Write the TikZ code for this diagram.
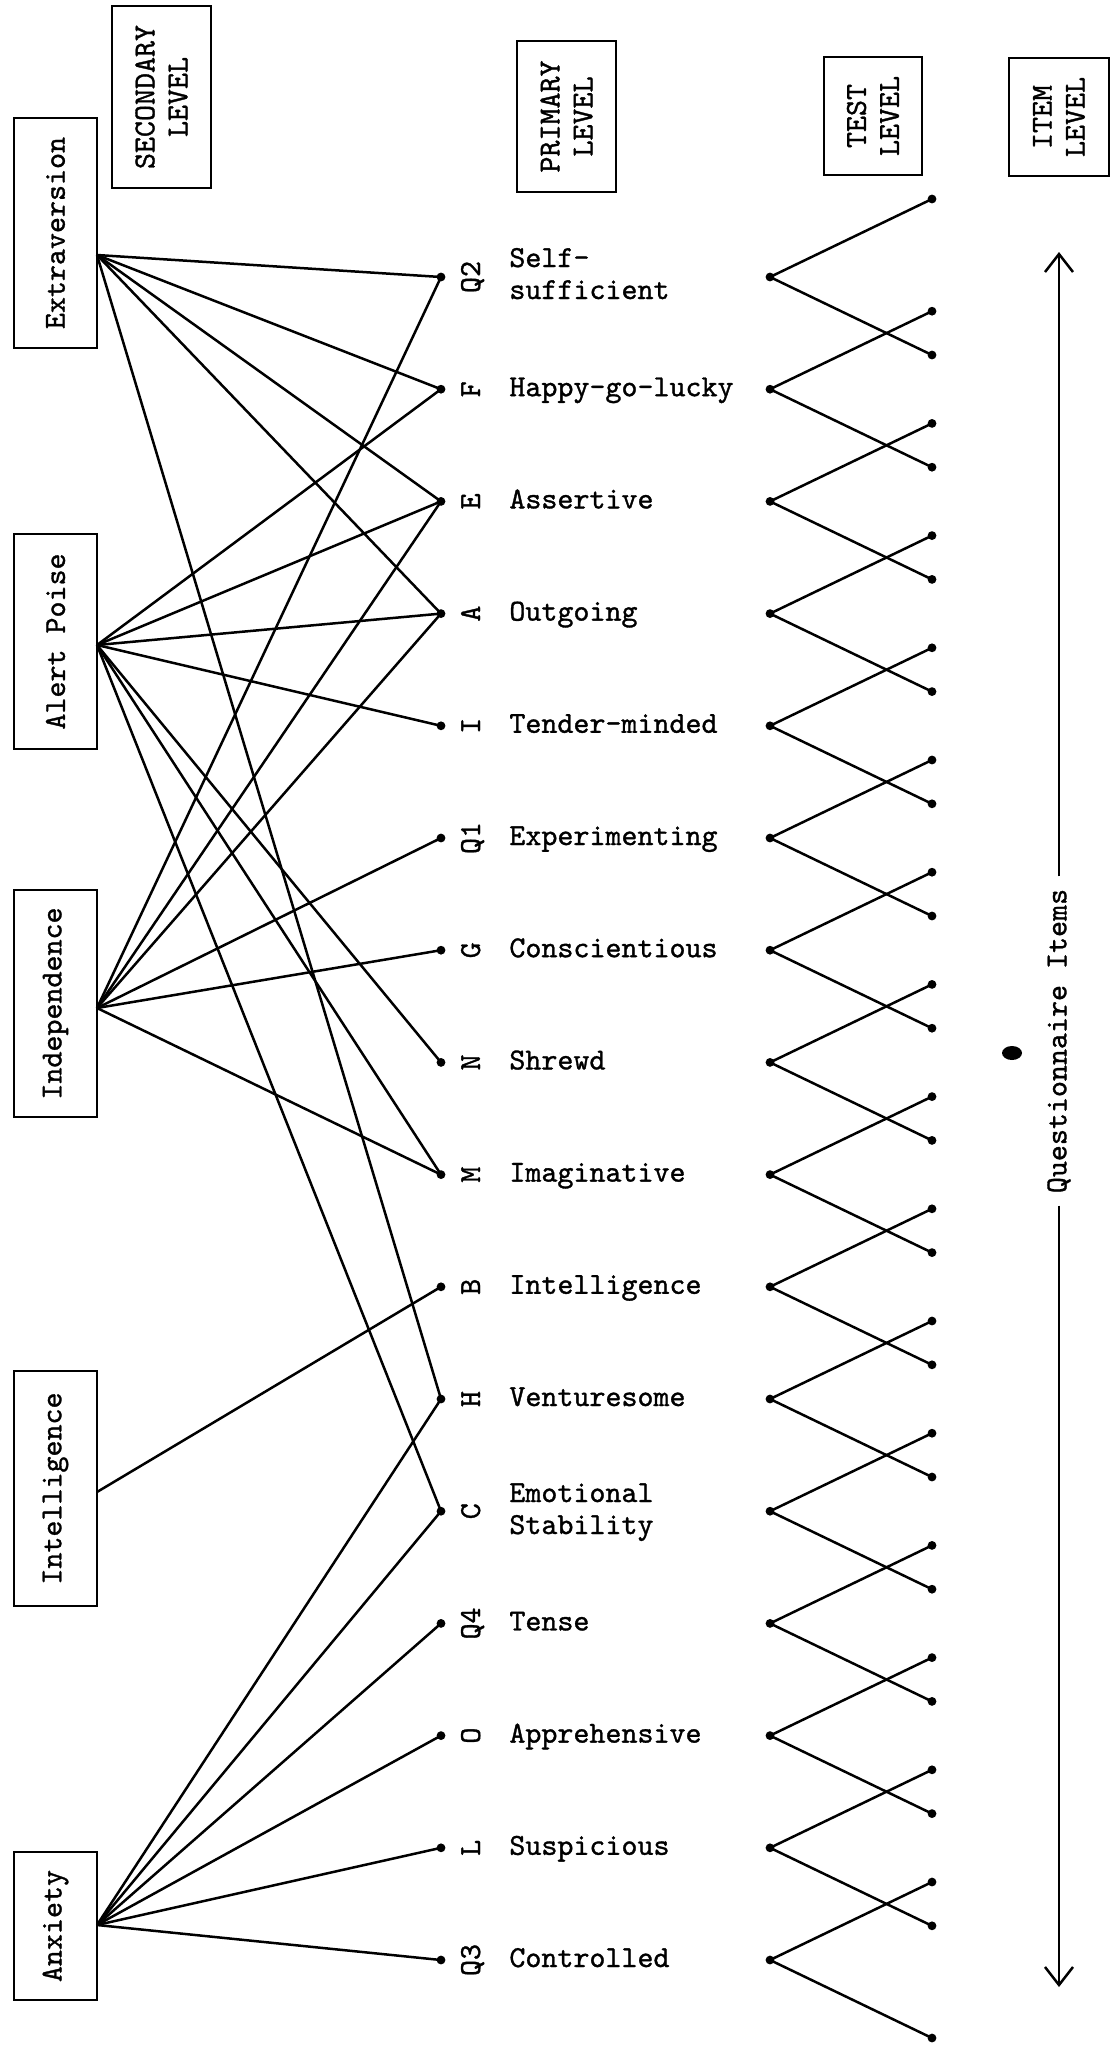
\documentclass[tikz,border=0pt]{standalone}
\usetikzlibrary{arrows.meta}
\font\twf="[lmmono10-regular]:embolden=1.1" at 15.25pt
\begin{document}
\begin{tikzpicture}[x=0.5pt,y=-0.5pt,
  every node/.style={font={\twf\baselineskip=16.5pt}},
  box/.style={draw, line width=1.3pt, rotate=90, inner sep=0pt, align=center},
  dotn/.style={circle, fill, inner sep=0pt, minimum size=4.4pt},
  ln/.style={line width=1.25pt},
  tip/.style={-{Straight Barb[length=9pt,width=14pt,line width=1.25pt]}}]
\useasboundingbox (0,0) rectangle (1118,2046);
% level boxes
\node[box, minimum width=91pt, minimum height=49.5pt] (sec) at (161.5,97) {SECONDARY\\LEVEL};
\node[box, minimum width=75.5pt, minimum height=49.5pt] (pri) at (566.5,116.5) {PRIMARY\\LEVEL};
\node[box, minimum width=59pt, minimum height=49pt] (tst) at (873,116) {TEST\\LEVEL};
\node[box, minimum width=59pt, minimum height=50pt] (itm) at (1059,117) {ITEM\\LEVEL};
% secondary factor boxes
\node[box, minimum width=115pt, minimum height=41.5pt] (ext) at (55.5,233) {Extraversion};
\node[box, minimum width=107.5pt, minimum height=41.5pt] (ap) at (55.5,641.5) {Alert Poise};
\node[box, minimum width=113.5pt, minimum height=41.5pt] (ind) at (55.5,1003.5) {Independence};
\node[box, minimum width=117.5pt, minimum height=41.5pt] (int) at (55.5,1488.5) {Intelligence};
\node[box, minimum width=74pt, minimum height=41.5pt] (anx) at (55.5,1926) {Anxiety};
\coordinate (ext-o) at (97,255);
\coordinate (ap-o) at (97,645);
\coordinate (ind-o) at (97,1008);
\coordinate (int-o) at (97,1492);
\coordinate (anx-o) at (97,1925);
% primary rows, test and item levels
\foreach \n/\i in {Q2/0,F/1,E/2,A/3,I/4,Q1/5,G/6,N/7,M/8,B/9,H/10,C/11,Q4/12,O/13,L/14,Q3/15}{
  \pgfmathsetmacro\yy{277+\i*112.2}
  \node[dotn] (p\n) at (441,\yy) {};
  \node[rotate=90, anchor=base, inner sep=0pt] (l\n) at (480,\yy) {\n};
  \node[dotn] (t\n) at (770,\yy) {};
  \node[dotn] (u\n) at (932,\yy-78) {};
  \node[dotn] (d\n) at (932,\yy+78) {};
  \draw[ln] (t\n.center) -- (u\n.center);
  \draw[ln] (t\n.center) -- (d\n.center);
}
% primary factor names
\foreach \n/\i/\txt in {F/1/Happy-go-lucky,E/2/Assertive,A/3/Outgoing,I/4/Tender-minded,Q1/5/Experimenting,G/6/Conscientious,N/7/Shrewd,M/8/Imaginative,B/9/Intelligence,H/10/Venturesome,Q4/12/Tense,O/13/Apprehensive,L/14/Suspicious,Q3/15/Controlled}{
  \pgfmathsetmacro\yy{277+\i*112.2+7}
  \node[anchor=base west, inner sep=0pt] (n\n) at (509,\yy) {\txt};
}
\node[anchor=base west, inner sep=0pt] (nQ2a) at (509,267) {Self-};
\node[anchor=base west, inner sep=0pt] (nQ2b) at (509,299) {sufficient};
\node[anchor=base west, inner sep=0pt] (nCa) at (509,1502) {Emotional};
\node[anchor=base west, inner sep=0pt] (nCb) at (509,1534) {Stability};
% connectors secondary -> primary
\foreach \t in {Q2,F,E,A,H} \draw[ln] (ext-o) -- (p\t.center);
\foreach \t in {F,E,A,I,N,M,C} \draw[ln] (ap-o) -- (p\t.center);
\foreach \t in {Q2,E,A,Q1,G,M} \draw[ln] (ind-o) -- (p\t.center);
\draw[ln] (int-o) -- (pB.center);
\foreach \t in {H,C,Q4,O,L,Q3} \draw[ln] (anx-o) -- (p\t.center);
% item-level arrow
\node[rotate=90, fill=white, inner xsep=6pt, inner ysep=2pt] (qi) at (1059,1041) {Questionnaire Items};
\coordinate (atop) at (1059,252);
\coordinate (abot) at (1059,1987);
\draw[ln, tip] (qi.east) -- (atop);
\draw[ln, tip] (qi.west) -- (abot);
\fill (1012,1053) ellipse [x radius=10, y radius=7];
\end{tikzpicture}
\end{document}
